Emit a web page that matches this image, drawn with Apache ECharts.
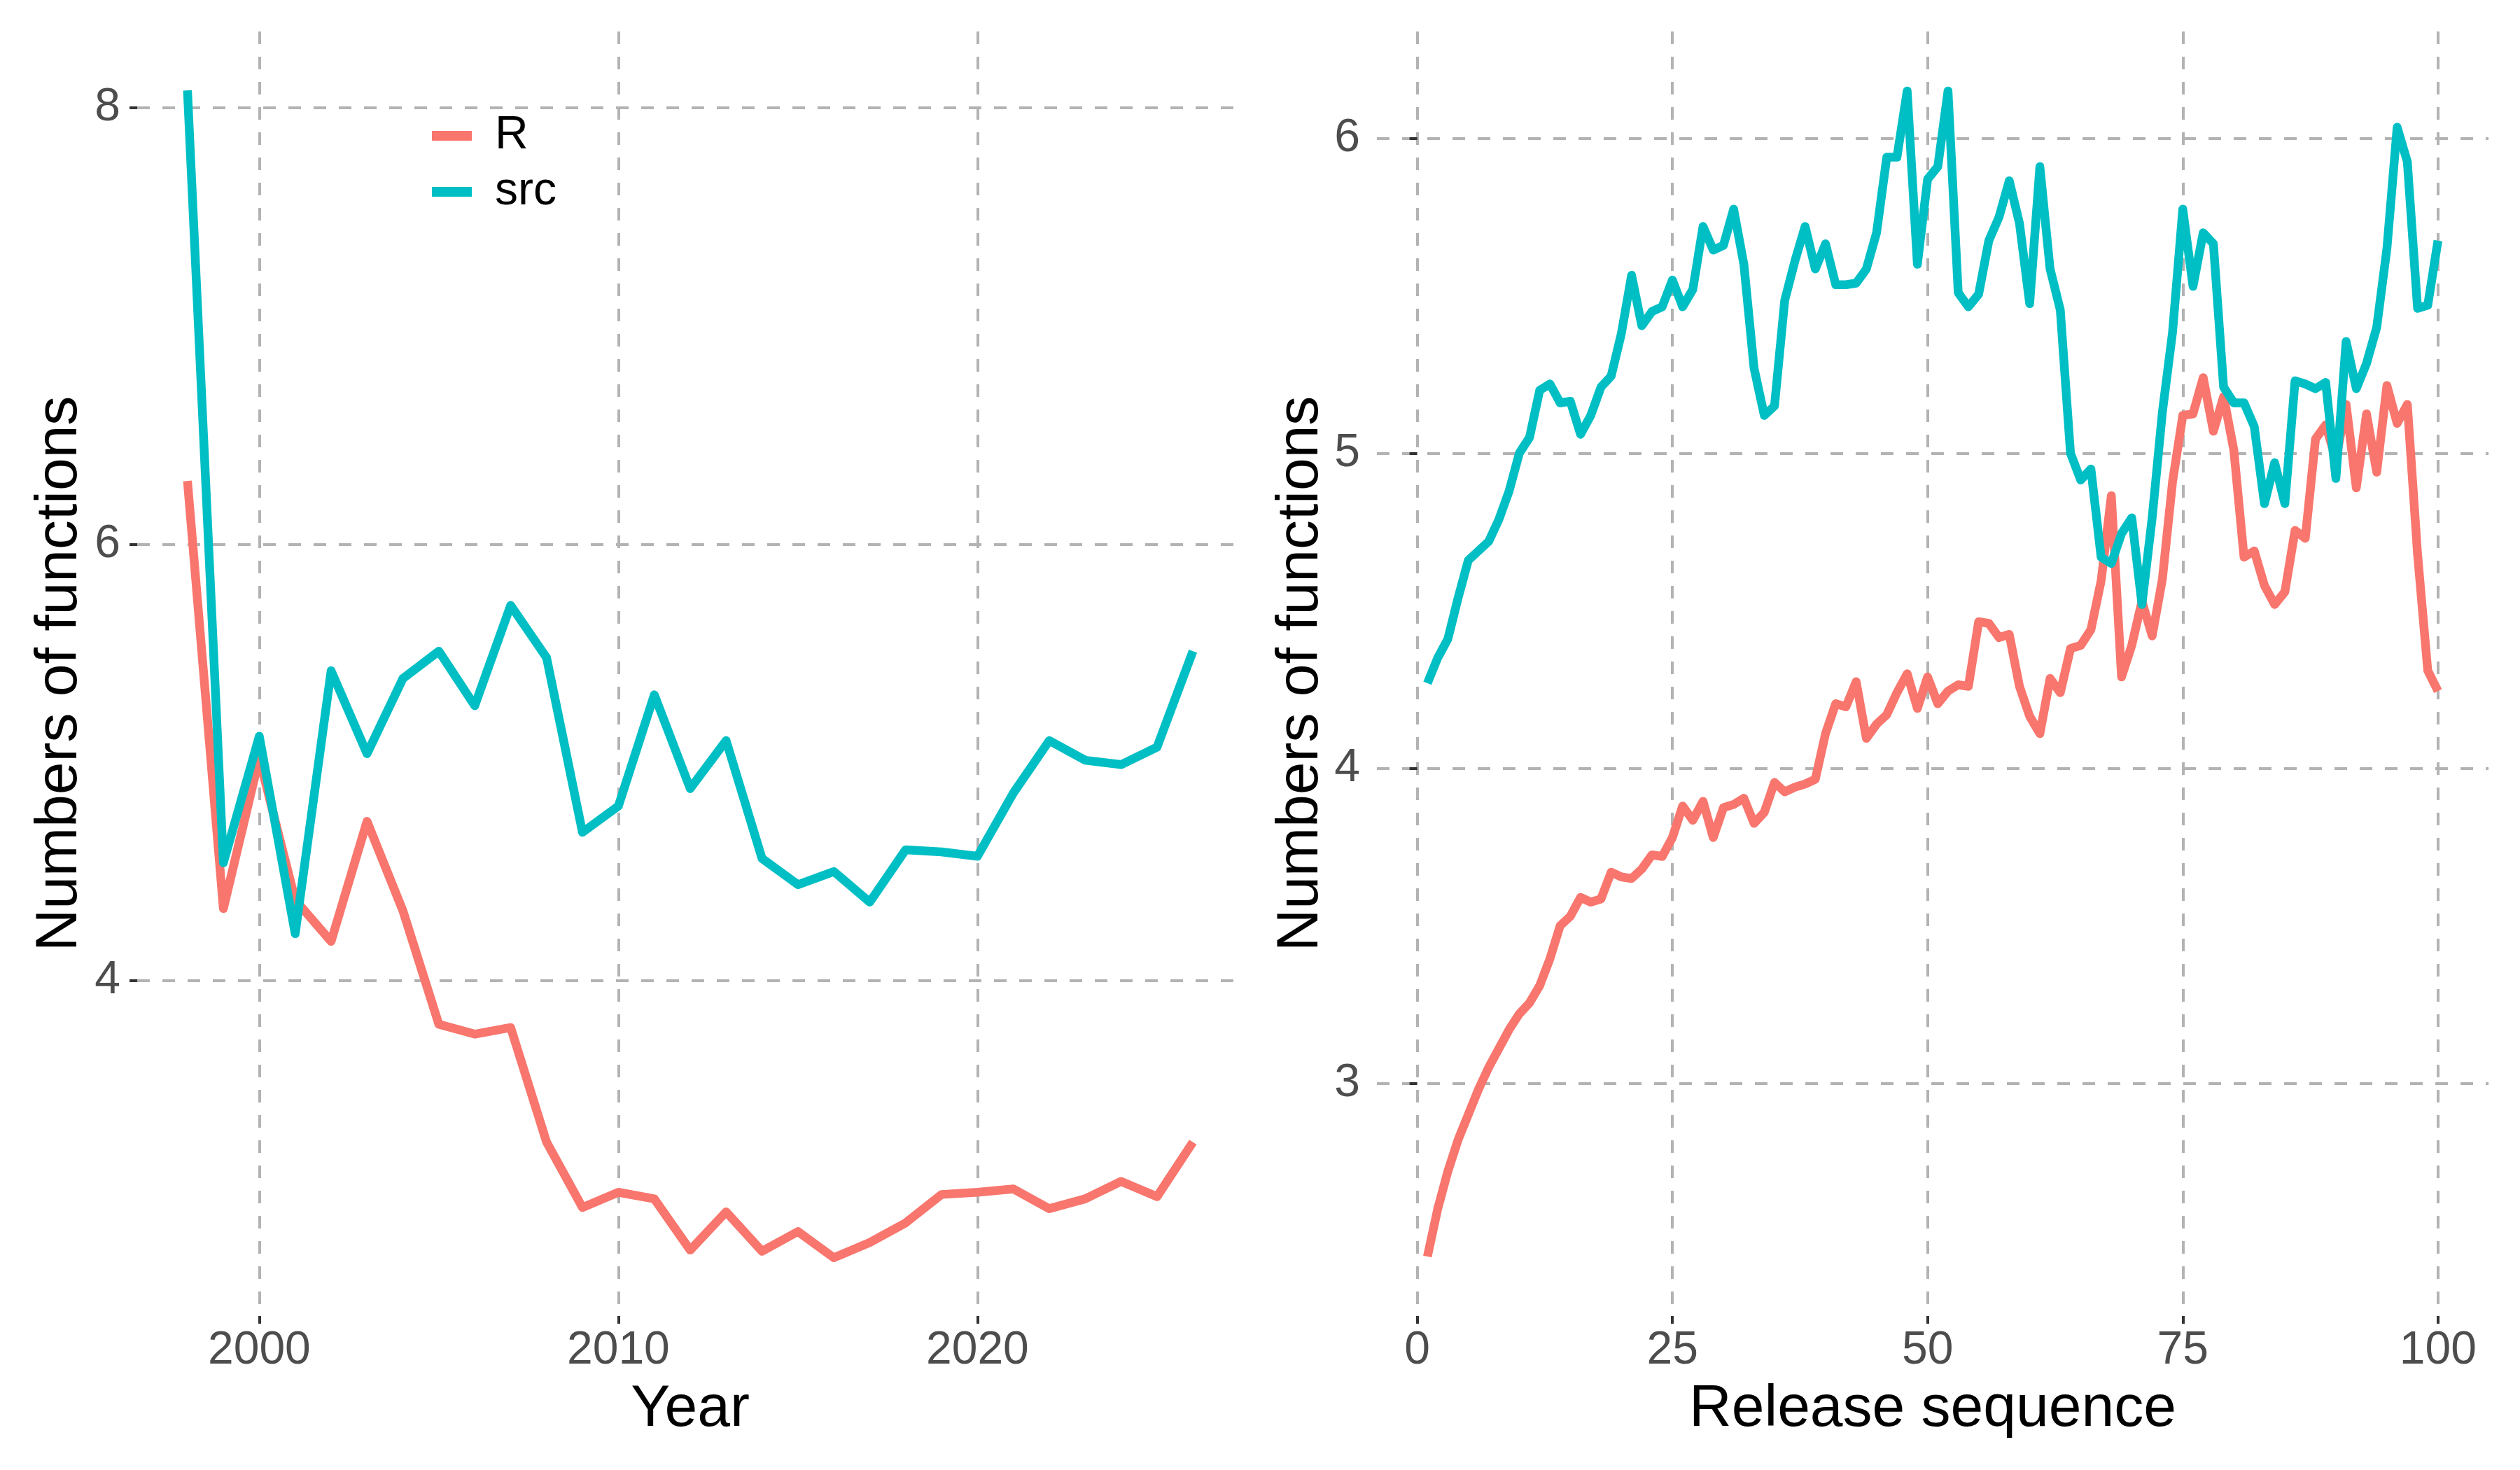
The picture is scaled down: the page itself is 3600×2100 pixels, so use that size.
<!DOCTYPE html>
<html lang="en">
<head>
<meta charset="UTF-8">
<title>Numbers of functions</title>
<script src="https://cdn.jsdelivr.net/npm/echarts@6/dist/echarts.min.js"></script>
<style>
html, body { margin: 0; padding: 0; background: #ffffff; }
#main { width: 3600px; height: 2100px; }
</style>
</head>
<body>
<div id="main"></div>
<script>
// left panel: by year
var years = [1998, 1999, 2000, 2001, 2002, 2003, 2004, 2005, 2006, 2007, 2008, 2009, 2010, 2011, 2012,
  2013, 2014, 2015, 2016, 2017, 2018, 2019, 2020, 2021, 2022, 2023, 2024, 2025, 2026];
var yearR = [6.29, 4.33, 5.02, 4.37, 4.18, 4.73, 4.32, 3.80, 3.755, 3.785, 3.26, 2.96, 3.03, 3.00, 2.765,
  2.94, 2.76, 2.85, 2.73, 2.80, 2.89, 3.02, 3.03, 3.045, 2.955, 3.00, 3.08, 3.01, 3.26];
var yearSrc = [8.08, 4.54, 5.12, 4.215, 5.42, 5.04, 5.385, 5.51, 5.26, 5.72, 5.48, 4.68, 4.80, 5.31, 4.88,
  5.10, 4.56, 4.44, 4.50, 4.36, 4.60, 4.59, 4.57, 4.86, 5.10, 5.01, 4.99, 5.07, 5.51];

// right panel: by release sequence 1..100
var releaseR = [
  2.45, 2.60, 2.72, 2.82, 2.90, 2.98, 3.05, 3.11, 3.17, 3.22,
  3.255, 3.31, 3.395, 3.50, 3.53, 3.59, 3.575, 3.585, 3.67, 3.655,
  3.65, 3.68, 3.725, 3.72, 3.78, 3.88, 3.835, 3.895, 3.78, 3.875,
  3.885, 3.905, 3.825, 3.86, 3.955, 3.925, 3.94, 3.95, 3.965, 4.11,
  4.205, 4.195, 4.275, 4.095, 4.14, 4.17, 4.24, 4.30, 4.19, 4.29,
  4.205, 4.245, 4.265, 4.26, 4.465, 4.46, 4.415, 4.425, 4.26, 4.165,
  4.11, 4.285, 4.24, 4.38, 4.39, 4.44, 4.595, 4.865, 4.29, 4.39,
  4.53, 4.42, 4.60, 4.91, 5.12, 5.125, 5.24, 5.07, 5.18, 5.01,
  4.67, 4.69, 4.58, 4.52, 4.56, 4.755, 4.73, 5.045, 5.09, 4.98,
  5.155, 4.89, 5.125, 4.94, 5.215, 5.095, 5.155, 4.68, 4.31, 4.245
];
var releaseSrc = [
  4.27, 4.35, 4.41, 4.54, 4.66, 4.69, 4.72, 4.79, 4.88, 5.00,
  5.05, 5.20, 5.22, 5.16, 5.165, 5.06, 5.12, 5.21, 5.245, 5.38,
  5.565, 5.405, 5.45, 5.465, 5.55, 5.465, 5.52, 5.72, 5.645, 5.66,
  5.775, 5.60, 5.27, 5.12, 5.15, 5.485, 5.61, 5.72, 5.585, 5.665,
  5.535, 5.535, 5.54, 5.585, 5.70, 5.94, 5.94, 6.15, 5.60, 5.87,
  5.91, 6.15, 5.51, 5.465, 5.505, 5.675, 5.75, 5.865, 5.73, 5.475,
  5.91, 5.585, 5.455, 5.00, 4.915, 4.95, 4.67, 4.65, 4.745, 4.795,
  4.52, 4.795, 5.13, 5.385, 5.775, 5.53, 5.70, 5.665, 5.21, 5.16,
  5.16, 5.085, 4.84, 4.97, 4.84, 5.23, 5.22, 5.205, 5.225, 4.92,
  5.355, 5.205, 5.285, 5.40, 5.65, 6.035, 5.925, 5.46, 5.47, 5.675
];

var yearTicks = [2000, 2010, 2020];
var yearValueTicks = [4, 6, 8];
var releaseTicks = [0, 25, 50, 75, 100];
var releaseValueTicks = [3, 4, 5, 6];

var FONT = '"Liberation Sans", Arial, sans-serif';
var colR = '#F8766D';
var colSrc = '#00BFC4';

function labelStyle(ticks, margin) {
  return {
    customValues: ticks, color: '#4D4D4D', fontSize: 66, fontFamily: FONT, margin: margin,
    formatter: function (v) { return String(v); }
  };
}

function axis(ticks, extra) {
  return Object.assign({
    type: 'value',
    axisLine: { show: false },
    axisTick: { show: true, length: 11, customValues: ticks, lineStyle: { color: '#333333', width: 4 } },
    splitLine: { show: true, lineStyle: { color: '#B3B3B3', width: 4, type: [18, 18] } },
    nameLocation: 'middle',
    nameTextStyle: { color: '#000000', fontSize: 84, fontFamily: FONT }
  }, extra);
}

function pairs(xs, ys) {
  return ys.map(function (v, i) { return [xs[i], v]; });
}
var releaseIdx = releaseR.map(function (v, i) { return i + 1; });

function line(name, color, xi, data, z) {
  return {
    type: 'line', name: name, xAxisIndex: xi, yAxisIndex: xi,
    data: data, showSymbol: false, symbol: 'none', silent: true, z: z,
    itemStyle: { color: color },
    lineStyle: { color: color, width: 12.5, cap: 'butt', join: 'round' }
  };
}

function legendItem(name, top) {
  return {
    data: [name], left: 617, top: top, padding: 0, orient: 'vertical',
    icon: 'rect', itemWidth: 57, itemHeight: 14, selectedMode: false,
    textStyle: { fontSize: 66, lineHeight: 66, color: '#000000', fontFamily: FONT, padding: [0, 0, 0, 28] }
  };
}

var chart = echarts.init(document.getElementById('main'), null, { renderer: 'canvas' });
chart.setOption({
  animation: false,
  backgroundColor: '#ffffff',
  textStyle: { fontFamily: FONT },
  grid: [
    { left: 196, right: 1824, top: 45, bottom: 220, outerBoundsMode: 'none' },
    { left: 1967, right: 45, top: 45, bottom: 220, outerBoundsMode: 'none' }
  ],
  legend: [legendItem('R', 161), legendItem('src', 241)],
  xAxis: [
    axis(yearTicks, { gridIndex: 0, min: 1996.6, max: 2027.4, name: 'Year', nameGap: 92,
      axisLabel: labelStyle(yearTicks, 17) }),
    axis(releaseTicks, { gridIndex: 1, min: -3.95, max: 104.95, name: 'Release sequence', nameGap: 92,
      axisLabel: labelStyle(releaseTicks, 17) })
  ],
  yAxis: [
    axis(yearValueTicks, { gridIndex: 0, min: 2.463, max: 8.35, name: 'Numbers of functions', nameGap: 68,
      nameRotate: 90, axisLabel: labelStyle(yearValueTicks, 24) }),
    axis(releaseValueTicks, { gridIndex: 1, min: 2.261, max: 6.339, name: 'Numbers of functions', nameGap: 66,
      nameRotate: 90, axisLabel: labelStyle(releaseValueTicks, 24) })
  ],
  series: [
    line('R', colR, 0, pairs(years, yearR), 2),
    line('src', colSrc, 0, pairs(years, yearSrc), 3),
    line('R', colR, 1, pairs(releaseIdx, releaseR), 2),
    line('src', colSrc, 1, pairs(releaseIdx, releaseSrc), 3)
  ]
});
</script>
</body>
</html>
